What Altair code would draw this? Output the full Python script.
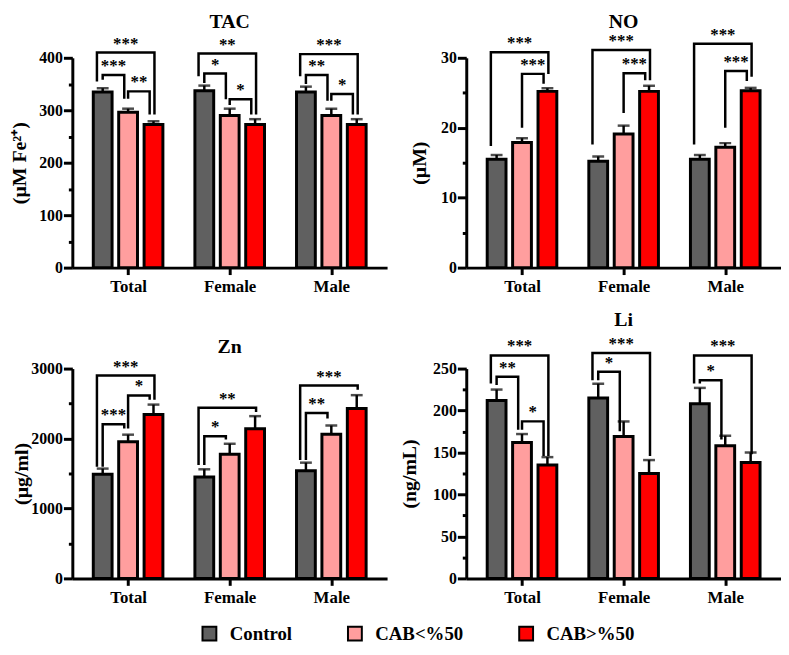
import altair as alt
import pandas as pd

FONT = "Liberation Serif"
GROUPS = ["Total", "Female", "Male"]
SERIES = ["Control", "CAB<%50", "CAB>%50"]
COLORS = ["#606060", "#ff9e9e", "#ff0000"]

# values listed group by group (Total, Female, Male), each as Control, CAB<%50, CAB>%50
tac_mean = [335, 296, 273, 337, 290, 273, 335, 290, 273]
tac_sem = [7, 7, 6, 10, 13, 10, 10, 13, 10]
no_mean = [15.5, 17.9, 25.2, 15.2, 19.1, 25.2, 15.5, 17.2, 25.3]
no_sem = [0.6, 0.6, 0.45, 0.7, 1.2, 0.8, 0.6, 0.6, 0.4]
zn_mean = [1490, 1955, 2345, 1450, 1775, 2140, 1540, 2060, 2430]
zn_sem = [80, 100, 140, 110, 150, 180, 115, 125, 190]
li_mean = [212, 162, 135, 215, 169, 125, 208, 158, 138]
li_sem = [13, 10, 9.5, 17, 18, 16, 19, 12, 12]

# significance brackets: group, from series, to series, bracket level, from-leg end, to-leg end, stars
tac_brackets = [
    ("Total", 0, 2, 410, 355, 292, "***"), ("Total", 0, 1, 367, 358, 322, "***"),
    ("Total", 1, 2, 336, 322, 292, "**"),
    ("Female", 0, 2, 408, 365, 292, "**"), ("Female", 0, 1, 370, 352, 321, "*"),
    ("Female", 1, 2, 321, 310, 292, "*"),
    ("Male", 0, 2, 407, 365, 292, "***"), ("Male", 0, 1, 367, 350, 318, "**"),
    ("Male", 1, 2, 331, 318, 292, "*"),
]
no_brackets = [
    ("Total", 0, 2, 30.8, 17.4, 27.7, "***"), ("Total", 1, 2, 27.7, 20.0, 26.3, "***"),
    ("Female", 0, 2, 31.1, 17.6, 26.8, "***"), ("Female", 1, 2, 27.8, 22.1, 26.8, "***"),
    ("Male", 0, 2, 32.0, 17.6, 27.3, "***"), ("Male", 1, 2, 28.1, 20.0, 26.7, "***"),
]
zn_brackets = [
    ("Total", 0, 2, 2900, 1597, 2555, "***"), ("Total", 1, 2, 2616, 2142, 2555, "*"),
    ("Total", 0, 1, 2204, 1597, 2142, "***"),
    ("Female", 0, 2, 2441, 1621, 2379, "**"), ("Female", 0, 1, 2033, 1621, 1986, "*"),
    ("Male", 0, 2, 2758, 1692, 2697, "***"), ("Male", 0, 1, 2365, 1692, 2285, "**"),
]
li_brackets = [
    ("Total", 0, 2, 265.7, 232.3, 145.9, "***"), ("Total", 0, 1, 240.2, 230.3, 177.2, "**"),
    ("Total", 1, 2, 187.1, 177.2, 145.9, "*"),
    ("Female", 0, 2, 268.5, 236.2, 145.9, "***"), ("Female", 0, 1, 246.1, 236.2, 175.3, "*"),
    ("Male", 0, 2, 265.7, 232.3, 147.8, "***"), ("Male", 0, 1, 236.2, 232.3, 165.4, "*"),
]

W, H = 318, 212
OFF = 0.25          # series spacing inside a group (group units)
PX = 3.0 / W        # one pixel in group units (domain spans 3 units)

label_expr = "[" + ",".join("'%s'" % g for g in GROUPS) + "][datum.value]"
legend = alt.Legend(
    title=None, orient="none", legendX=129, legendY=572, direction="horizontal",
    symbolType="square", symbolSize=196, symbolStrokeColor="black", symbolStrokeWidth=2,
    labelFont=FONT, labelFontSize=19, labelFontWeight="bold", labelColor="black",
    labelOffset=11, columnPadding=52, symbolOpacity=1,
)


def panel(title, ytitle, means, sems, brackets, ymax, major, minor, toff, ext):
    rows = []
    for gi, g in enumerate(GROUPS):
        for si, s in enumerate(SERIES):
            m = means[gi * 3 + si]
            e = sems[gi * 3 + si]
            rows.append(dict(group=g, series=s, x=gi + (si - 1) * OFF, mean=m, top=m + e))
    df = pd.DataFrame(rows)

    paths, labels = [], []
    for bi, (g, a, b, lev, ya, yb, lab) in enumerate(brackets):
        gi = GROUPS.index(g)
        outer = (b - a) == 2
        xa = gi + (a - 1) * OFF + (-6 if outer else 0) * PX
        xb = gi + (b - 1) * OFF + (1 if outer else -4) * PX
        paths += [dict(bid=bi, k=0, x=xa, y=ya), dict(bid=bi, k=1, x=xa, y=lev),
                  dict(bid=bi, k=2, x=xb, y=lev), dict(bid=bi, k=3, x=xb, y=yb)]
        labels.append(dict(x=(xa + xb) / 2, y=lev, label=lab))
    pdf = pd.DataFrame(paths)
    ldf = pd.DataFrame(labels)

    xs = alt.Scale(domain=[-0.5, 2.5], nice=False, zero=False)
    ys = alt.Scale(domain=[0, ymax], nice=False)

    err = alt.Chart(df).mark_rule(color="black", strokeWidth=2.5).encode(
        x=alt.X("x:Q", scale=xs),
        y=alt.Y("mean:Q", scale=ys, axis=alt.Axis(values=minor, labels=False, tickSize=4,
                                                   domain=False, title=None, orient="left",
                                                   grid=False, tickWidth=3)),
        y2="top:Q",
    )
    bars = alt.Chart(df).mark_bar(size=19, orient="vertical", stroke="black", strokeWidth=3,
                                  opacity=1).encode(
        x=alt.X("x:Q", scale=xs, axis=alt.Axis(values=[0, 1, 2], labelExpr=label_expr, title=None,
                                              grid=False, tickSize=7, labelPadding=4,
                                              labelFontSize=17)),
        y=alt.Y("mean:Q", scale=ys, stack=None,
                axis=alt.Axis(values=major, format="d", title=ytitle, grid=False, tickSize=9,
                              labelPadding=1, minExtent=ext, maxExtent=ext, titlePadding=2,
                              orient="left", labelFontSize=16, titleFontSize=20)),
        color=alt.Color("series:N", scale=alt.Scale(domain=SERIES, range=COLORS), legend=legend),
    )
    caps = alt.Chart(df).mark_tick(orient="horizontal", size=12, thickness=2.5, color="black").encode(
        x=alt.X("x:Q", scale=xs),
        y=alt.Y("top:Q", scale=ys, axis=None),
    )
    lines = alt.Chart(pdf).mark_line(color="black", strokeWidth=2.5, strokeJoin="miter").encode(
        x=alt.X("x:Q", scale=xs),
        y=alt.Y("y:Q", scale=ys, axis=None),
        detail="bid:N",
        order="k:Q",
    )
    texts = alt.Chart(ldf).mark_text(font=FONT, fontWeight="bold", fontSize=17, dy=-4,
                                     baseline="alphabetic", align="center", color="black").encode(
        x=alt.X("x:Q", scale=xs),
        y=alt.Y("y:Q", scale=ys, axis=None),
        text="label:N",
    )
    return alt.layer(err, bars, caps, lines, texts).resolve_axis(y="independent").properties(
        width=W, height=H,
        title=alt.TitleParams(title, offset=toff, fontSize=20, font=FONT, fontWeight="bold",
                              anchor="middle", color="black"),
    )


tac = panel("TAC", "(µM Fe²⁺)", tac_mean, tac_sem, tac_brackets, 400,
            [0, 100, 200, 300, 400], [50, 150, 250, 350], 3, 41)
no = panel("NO", "(µM)", no_mean, no_sem, no_brackets, 30,
           [0, 10, 20, 30], [5, 15, 25], -6, 35)
zn = panel("Zn", "(µg/ml)", zn_mean, zn_sem, zn_brackets, 3000,
           [0, 1000, 2000, 3000], [500, 1500, 2500], 1, 39)
li = panel("Li", "(ng/mL)", li_mean, li_sem, li_brackets, 250,
           [0, 50, 100, 150, 200, 250], [25, 75, 125, 175, 225], 5, 45)

chart = alt.concat(tac, no, zn, li, columns=2, spacing={"row": 102, "column": 80},
                   bounds="flush").properties(
    padding={"left": 2, "top": 0, "right": 0, "bottom": 0}
).configure(font=FONT).configure_view(strokeWidth=0).configure_axis(
    labelFont=FONT, labelFontWeight="bold", labelColor="black",
    titleFont=FONT, titleFontWeight="bold", titleColor="black",
    domainColor="black", domainWidth=3, tickColor="black", tickWidth=3,
).configure_legend(
    labelFont=FONT, labelFontWeight="bold", labelFontSize=19, labelColor="black",
)

chart.save("out.html", embed_options={"renderer": "svg", "actions": False})
